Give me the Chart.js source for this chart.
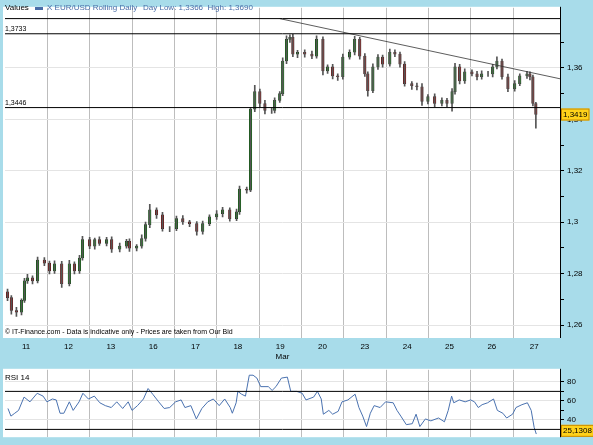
<!DOCTYPE html>
<html>
<head>
<meta charset="utf-8">
<script src="https://cdn.jsdelivr.net/npm/chart.js@4.4.0/dist/chart.umd.min.js"></script>
<style>
  body { margin: 0; background: #a8dcea; }
  canvas { position: absolute; left: 0; }
  #main { top: 0; }
  #rsi { top: 362px; }
</style>
</head>
<body>
<canvas id="main" width="593" height="362"></canvas>
<canvas id="rsi" width="593" height="83"></canvas>
<script>
// x is measured in trading days from the first day (11 Mar)
const dayLabels = ['11', '12', '13', '16', '17', '18', '19', '20', '23', '24', '25', '26', '27'];

const candleTimes = [0.06,0.15,0.27,0.39,0.46,0.53,0.65,0.77,0.93,1.05,
  1.17,1.34,1.52,1.64,1.76,1.83,2.00,2.12,2.23,2.40,
  2.52,2.71,2.87,2.94,3.11,3.23,3.32,3.42,3.58,3.72,
  3.89,4.05,4.20,4.36,4.53,4.67,4.83,5.00,5.14,5.31,
  5.47,5.54,5.71,5.80,5.90,6.02,6.14,6.30,6.37,6.49,
  6.56,6.65,6.73,6.80,6.91,7.08,7.25,7.36,7.51,7.62,
  7.74,7.86,7.98,8.14,8.26,8.38,8.50,8.57,8.69,8.81,
  8.92,9.09,9.21,9.33,9.44,9.61,9.73,9.85,9.99,10.15,
  10.32,10.44,10.56,10.63,10.74,10.86,11.03,11.15,11.26,11.41,
  11.52,11.62,11.74,11.88,12.04,12.16,12.33,12.40,12.47,12.54];

const firstOpen = 1.2730;
const closes = [1.2707,1.2657,1.2650,1.2696,1.2772,1.2784,1.2772,1.2853,1.2841,1.2811,
  1.2838,1.2761,1.2838,1.2811,1.2861,1.2933,1.2907,1.2933,1.2918,1.2933,
  1.2895,1.2907,1.2926,1.2899,1.2907,1.2937,1.2991,1.3048,1.3029,1.2975,
  1.2975,1.3014,1.3002,1.2995,1.2964,1.2995,1.3021,1.3033,1.3048,1.3014,
  1.3041,1.3129,1.3125,1.3440,1.3508,1.3462,1.3435,1.3435,1.3474,1.3500,
  1.3627,1.3711,1.3719,1.3654,1.3661,1.3654,1.3646,1.3711,1.3589,1.3604,
  1.3569,1.3566,1.3642,1.3661,1.3711,1.3646,1.3577,1.3512,1.3604,1.3642,
  1.3615,1.3661,1.3654,1.3615,1.3539,1.3531,1.3527,1.3470,1.3489,1.3462,
  1.3474,1.3462,1.3508,1.3604,1.3550,1.3585,1.3577,1.3566,1.3577,1.3577,
  1.3604,1.3627,1.3566,1.3520,1.3539,1.3569,1.3577,1.3566,1.3462,1.3419];

// wick lengths above / below the body, in pips
const wickUp = [10,8,12,6,10,14,8,12,10,8, 12,10,14,8,10,12,8,6,10,8,
  10,12,8,10,6,14,10,22,8,10, 8,10,12,6,8,10,8,12,10,8,
  10,12,8,6,25,10,12,8,10,8, 12,14,10,12,8,10,12,14,10,8,
  10,8,12,10,12,8,10,8,12,10, 8,12,10,8,10,8,10,12,8,10,
  10,8,12,14,10,12,8,10,12,10, 10,16,8,10,12,8,10,8,6,4];
const wickDown = [12,14,16,10,8,10,12,8,10,12, 10,14,8,12,10,8,10,12,8,10,
  12,10,8,12,10,8,10,12,14,10, 12,8,10,12,14,10,8,10,12,10,
  8,10,12,6,10,12,14,12,10,8, 8,10,12,10,14,12,10,8,16,10,
  12,14,10,8,10,12,10,22,8,10, 12,8,10,12,10,14,12,16,10,12,
  10,12,30,10,12,10,8,12,10,10, 12,8,10,12,10,8,10,12,10,53];

const rsiTimes = [0.07,0.14,0.23,0.32,0.45,0.59,0.76,0.90,0.99,1.12,1.21,1.30,1.39,1.52,1.61,1.75,1.84,1.97,
  2.11,2.24,2.37,2.51,2.64,2.78,2.91,3.00,3.13,3.27,3.38,3.49,3.63,3.76,3.89,4.03,4.16,4.25,4.39,4.52,
  4.65,4.79,4.92,5.06,5.19,5.32,5.37,5.46,5.50,5.59,5.68,5.77,5.86,5.95,6.04,6.22,6.31,6.40,6.53,6.67,
  6.75,6.89,7.02,7.11,7.29,7.38,7.47,7.52,7.65,7.74,7.87,7.96,8.10,8.27,8.36,8.45,8.54,8.63,8.72,8.86,
  8.99,9.17,9.26,9.35,9.48,9.62,9.71,9.80,9.93,10.06,10.24,10.38,10.47,10.55,10.60,10.73,10.87,11.00,
  11.09,11.18,11.27,11.40,11.54,11.63,11.76,11.85,11.99,12.07,12.21,12.34,12.43,12.50,12.55];
const rsiValues = [52,44,47,50,64,59,68,65,59,62,61,47,47,59,50,59,68,62,
  65,58,55,53,59,52,59,50,55,62,73,67,59,52,53,59,61,53,55,41,
  52,59,62,55,62,53,47,58,70,67,65,87,87,84,75,75,71,75,84,85,
  70,70,68,61,64,70,62,46,50,46,49,59,61,67,53,44,33,47,55,53,
  59,58,50,44,35,36,46,33,41,39,42,38,50,65,58,61,59,61,
  59,53,56,58,62,50,47,42,46,53,56,58,50,32,25.13];

const levelHigh = 1.3733;
const levelLow = 1.3446;
const trendLine = [{x: 6.49, y: 1.3792}, {x: 13.11, y: 1.3558}];
const headerLevel = 1.3792;
const lastPrice = '1,3419';
const lastRsi = '25,1308';

const X_MAX = 13.11;
const FONT = '"Liberation Sans", Arial';
const fmt = v => String(+v.toFixed(4)).replace('.', ',');

const opens = closes.map((c, i) => i ? closes[i - 1] : firstOpen);
const bodies = candleTimes.map((t, i) => ({x: t, y: [opens[i], closes[i]]}));
const wicks = candleTimes.map((t, i) => ({
  x: t,
  y: [Math.min(opens[i], closes[i]) - wickDown[i] / 10000, Math.max(opens[i], closes[i]) + wickUp[i] / 10000]
}));
const bodyColors = closes.map((c, i) => c >= opens[i] ? '#10a010' : '#c01010');

const whiteBox = {
  id: 'whiteBox',
  beforeDraw(chart) {
    const {ctx, chartArea: a} = chart;
    ctx.save();
    ctx.fillStyle = '#fff';
    ctx.fillRect(a.left - 2, a.top - 1, a.right - a.left + 2, a.bottom - a.top + 1);
    ctx.restore();
  }
};

const tag = (ctx, x, y, text) => {
  ctx.font = '8px ' + FONT;
  const w = ctx.measureText(text).width + 4;
  ctx.fillStyle = '#ffd21a';
  ctx.fillRect(x, y - 6, w, 12);
  ctx.strokeStyle = '#c88a00';
  ctx.strokeRect(x + 0.5, y - 5.5, w - 1, 11);
  ctx.fillStyle = '#000';
  ctx.textBaseline = 'middle';
  ctx.fillText(text, x + 2, y);
};

const mainText = {
  id: 'mainText',
  afterDraw(chart) {
    const {ctx, chartArea: a, scales} = chart;
    ctx.save();
    ctx.strokeStyle = '#000';
    ctx.lineWidth = 1;
    ctx.beginPath();
    ctx.moveTo(a.right + 0.5, a.top - 1);
    ctx.lineTo(a.right + 0.5, a.bottom);
    ctx.stroke();
    ctx.textBaseline = 'middle';
    ctx.font = '8px ' + FONT;
    ctx.fillStyle = '#000';
    ctx.fillText('Values', a.left, 8);
    ctx.fillStyle = '#4a6ea8';
    ctx.fillRect(a.left + 30, 7, 8, 3);
    ctx.fillText('X EUR/USD Rolling Daily', a.left + 42, 8);
    ctx.fillText('Day Low: 1,3366  High: 1,3690', a.left + 138, 8);
    ctx.fillStyle = '#000';
    ctx.font = '7px ' + FONT;
    ctx.fillText(fmt(levelHigh), a.left, scales.y.getPixelForValue(levelHigh) - 5);
    ctx.fillText(fmt(levelLow), a.left, scales.y.getPixelForValue(levelLow) - 5);
    ctx.fillText('© IT-Finance.com - Data is indicative only - Prices are taken from Our Bid', a.left, a.bottom - 6);
    tag(ctx, a.right + 1, scales.y.getPixelForValue(1.3419), lastPrice);
    ctx.restore();
  }
};

const lineDs = (data, color, width) => ({
  type: 'line', data, borderColor: color, borderWidth: width,
  pointRadius: 0, fill: false, tension: 0
});

const xGrid = () => ({
  type: 'linear', min: 0, max: X_MAX, offset: false,
  ticks: {display: false, stepSize: 1},
  grid: {color: '#bdbdbd', drawTicks: false, offset: false},
  border: {display: false},
  afterBuildTicks: ax => { ax.ticks = dayLabels.slice(1).map((_, i) => ({value: i + 1})); },
  afterFit: ax => { ax.height = 0; }
});

new Chart(document.getElementById('main'), {
  type: 'bar',
  data: {
    datasets: [
      lineDs([{x: 0, y: headerLevel}, {x: X_MAX, y: headerLevel}], '#000', 1),
      lineDs([{x: 0, y: levelHigh}, {x: X_MAX, y: levelHigh}], '#000', 1),
      lineDs([{x: 0, y: levelLow}, {x: X_MAX, y: levelLow}], '#000', 1),
      lineDs(trendLine, '#333', 0.8),
      {data: wicks, backgroundColor: '#555', barThickness: 1, grouped: false},
      {data: bodies, backgroundColor: bodyColors, borderColor: '#111', borderWidth: 0.5,
       borderSkipped: false, barThickness: 2.5, grouped: false}
    ]
  },
  options: {
    responsive: false,
    animation: false,
    layout: {padding: {left: 5, top: 3}},
    plugins: {legend: {display: false}, tooltip: {enabled: false}},
    scales: {
      x: xGrid(),
      xl: {
        type: 'linear', min: 0, max: X_MAX, position: 'bottom', offset: false,
        grid: {display: false, drawTicks: false, offset: false},
        border: {display: false},
        afterBuildTicks: ax => { ax.ticks = dayLabels.map((_, i) => ({value: i + 0.5})); },
        ticks: {callback: v => dayLabels[Math.floor(v)], color: '#000', padding: 4, maxRotation: 0,
                font: {size: 8, family: FONT}},
        title: {display: true, text: 'Mar', color: '#000', padding: {top: 1, bottom: 0}, font: {size: 8, family: FONT}},
        afterFit: ax => { ax.height = 24; }
      },
      y: {
        position: 'right', min: 1.255, max: 1.3834,
        afterBuildTicks: ax => {
          ax.ticks = [];
          for (let k = 126; k <= 137; k++) ax.ticks.push({value: k / 100});
        },
        ticks: {
          callback: v => (Math.round(v * 100) % 2 === 0 ? fmt(v) : ''),
          color: '#000', padding: 3, font: {size: 8, family: FONT}
        },
        grid: {
          color: c => (Math.round(c.tick.value * 100) % 2 === 0 ? '#e4e4e4' : 'rgba(0,0,0,0)'),
          tickColor: '#000', tickLength: 4
        },
        border: {display: false},
        afterFit: ax => { ax.width = 33; }
      }
    }
  },
  plugins: [whiteBox, mainText]
});

const rsiText = {
  id: 'rsiText',
  afterDraw(chart) {
    const {ctx, chartArea: a, scales} = chart;
    ctx.save();
    ctx.strokeStyle = '#000';
    ctx.beginPath();
    ctx.moveTo(a.right + 0.5, a.top - 1);
    ctx.lineTo(a.right + 0.5, a.bottom);
    ctx.stroke();
    ctx.font = '8px ' + FONT;
    ctx.fillStyle = '#000';
    ctx.textBaseline = 'middle';
    ctx.fillText('RSI 14', a.left, a.top + 8);
    tag(ctx, a.right + 1, scales.y.getPixelForValue(28.5), lastRsi);
    ctx.restore();
  }
};

new Chart(document.getElementById('rsi'), {
  type: 'line',
  data: {
    datasets: [
      lineDs([{x: 0, y: 70}, {x: X_MAX, y: 70}], '#000', 1),
      lineDs([{x: 0, y: 30}, {x: X_MAX, y: 30}], '#000', 1),
      lineDs(rsiTimes.map((t, i) => ({x: t, y: rsiValues[i]})), '#4a72b0', 1)
    ]
  },
  options: {
    responsive: false,
    animation: false,
    layout: {padding: {left: 5, top: 1, bottom: 4}},
    plugins: {legend: {display: false}, tooltip: {enabled: false}},
    scales: {
      x: xGrid(),
      y: {
        position: 'right', min: 21.8, max: 92.7,
        afterBuildTicks: ax => { ax.ticks = [40, 50, 60, 70, 80].map(v => ({value: v})); },
        ticks: {callback: v => (v % 20 === 0 ? String(v) : ''), color: '#000', padding: 3,
                font: {size: 8, family: FONT}},
        grid: {color: c => (c.tick.value % 20 === 0 ? '#e4e4e4' : 'rgba(0,0,0,0)'), tickColor: '#000', tickLength: 4},
        border: {display: false},
        afterFit: ax => { ax.width = 33; }
      }
    }
  },
  plugins: [whiteBox, rsiText]
});
</script>
</body>
</html>
